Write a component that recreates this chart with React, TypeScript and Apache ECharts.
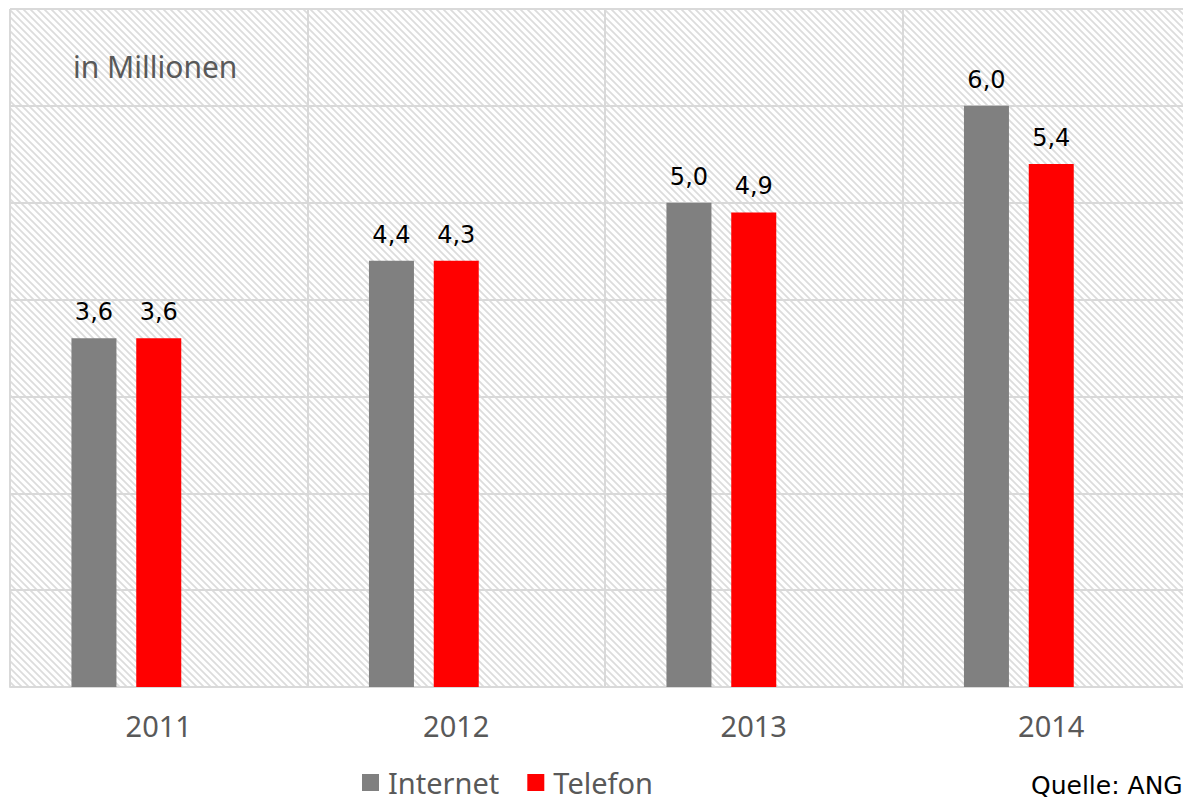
import React, { useEffect, useRef } from "react";
import * as echarts from "echarts";

const years = ["2011", "2012", "2013", "2014"];
const internet = [3.6, 4.4, 5.0, 6.0];
const telefon = [3.6, 4.4, 4.9, 5.4];
const telefonLabels = ["3,6", "4,3", "4,9", "5,4"];
const unitLabel = "in Millionen";
const sourceLabel = "Quelle: ANG";

const hatchSvg =
  "<svg xmlns='http://www.w3.org/2000/svg' width='7' height='7'>" +
  "<rect width='7' height='7' fill='#ffffff'/>" +
  "<path d='M-1,-1 L8,8 M-1,6 L1,8 M6,-1 L8,1' stroke='#dcdcdc' stroke-width='1.7'/></svg>";
const hatchUrl = "data:image/svg+xml;charset=utf-8," + encodeURIComponent(hatchSvg);

const VIEW_W = 1183;
const CHART_W = 1210;

export default function App() {
  const ref = useRef<HTMLDivElement>(null);
  useEffect(() => {
    if (!ref.current) return;
    const chart = echarts.init(ref.current, undefined, { renderer: "svg" });
    const fmt = (v: number) => v.toFixed(1).replace(".", ",");
    chart.setOption({
      animation: false,
      backgroundColor: "#ffffff",
      grid: {
        left: 10,
        top: 9,
        width: 1190,
        height: 678,
        show: true,
        borderWidth: 0,
        backgroundColor: {
          image: hatchUrl,
          repeat: "repeat",
          imageWidth: 7,
          imageHeight: 7,
        } as any,
      },
      legend: {
        data: ["Internet", "Telefon"],
        left: 362,
        top: 768,
        padding: 0,
        itemWidth: 17,
        itemHeight: 17,
        itemGap: 28,
        icon: "rect",
        textStyle: {
          fontFamily: "Noto Sans",
          fontSize: 29,
          lineHeight: 29,
          color: "#595959",
          padding: [0, 0, 0, 4],
        },
      },
      xAxis: {
        type: "category",
        data: years,
        axisLine: { show: true, lineStyle: { color: "#d9d9d9", width: 2 } },
        axisTick: { show: false },
        splitLine: { show: true, lineStyle: { color: "#d9d9d9", width: 2 } },
        axisLabel: { fontFamily: "Noto Sans", fontSize: 29, color: "#595959", margin: 24 },
      },
      yAxis: {
        type: "value",
        min: 0,
        max: 7,
        interval: 1,
        axisLabel: { show: false },
        axisLine: { show: false },
        axisTick: { show: false },
        splitLine: { show: true, lineStyle: { color: "#d9d9d9", width: 2 } },
      },
      series: [
        {
          name: "Internet",
          type: "bar",
          data: internet,
          barWidth: 45,
          barGap: "44%",
          itemStyle: { color: "#808080" },
          label: {
            show: true,
            position: "top",
            distance: 14,
            formatter: (p: any) => fmt(p.value),
            fontFamily: "DejaVu Sans",
            fontSize: 24,
            color: "#000000",
          },
        },
        {
          name: "Telefon",
          type: "bar",
          data: telefon,
          barWidth: 45,
          barGap: "44%",
          itemStyle: { color: "#ff0000" },
          label: {
            show: true,
            position: "top",
            distance: 14,
            formatter: (p: any) => telefonLabels[p.dataIndex],
            fontFamily: "DejaVu Sans",
            fontSize: 24,
            color: "#000000",
          },
        },
        {
          name: "placeholder",
          type: "bar",
          data: [],
          barWidth: 45,
          barGap: "44%",
        },
      ],
      graphic: [
        {
          type: "text",
          left: 73,
          top: 51,
          style: { text: unitLabel, fontFamily: "Noto Sans", fontSize: 30, fill: "#595959" },
        },
        {
          type: "text",
          left: 1031,
          top: 773,
          style: { text: sourceLabel, fontFamily: "DejaVu Sans", fontSize: 25, fill: "#000000" },
        },
      ],
    });
    return () => chart.dispose();
  }, []);
  return (
    <div
      style={{ position: "fixed", left: 0, top: 0, width: VIEW_W, height: 803, overflow: "hidden", background: "#fff" }}
    >
      <div ref={ref} style={{ width: CHART_W, height: 803 }} />
    </div>
  );
}
